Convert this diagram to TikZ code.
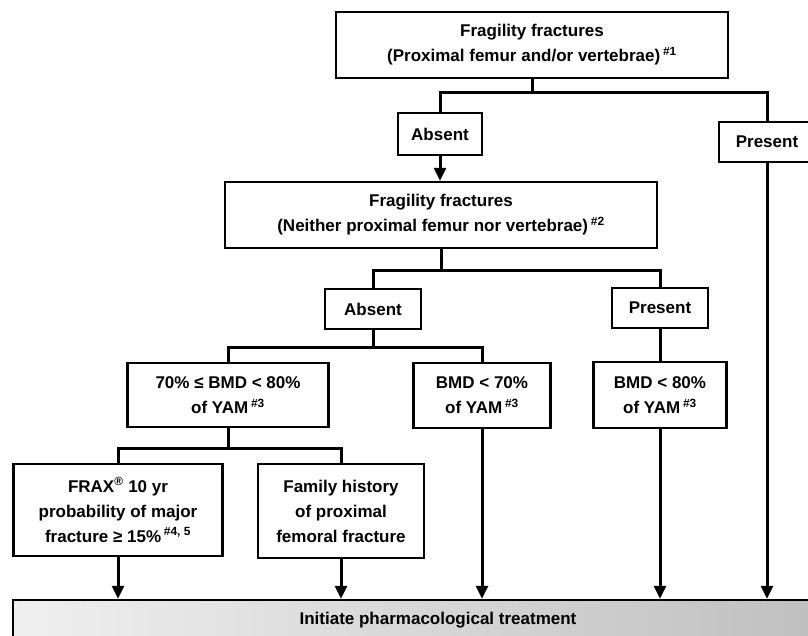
\documentclass[tikz,border=0pt]{standalone}
\usepackage{fontspec}
\setmainfont{Liberation Sans}
\usetikzlibrary{arrows.meta}
\begin{document}
\begin{tikzpicture}[x=1pt,y=-1pt,
  box/.style={draw, line width=2.4pt, font=\bfseries\fontsize{17}{25}\selectfont, align=center, inner sep=0pt},
  conn/.style={line width=3pt},
  arr/.style={line width=3pt, -{Triangle[width=12pt,length=13pt]}},
]
\clip (0,0) rectangle (808,636);
\useasboundingbox (0,0) rectangle (808,636);

\node[box, minimum width=392pt, minimum height=66pt] (top) at (532,45)
  {Fragility fractures\\(Proximal femur and/or vertebrae)\,\textsuperscript{\#1}};
\node[box, minimum width=84pt, minimum height=42pt] (absent1) at (440,134) {Absent};
\node[box, minimum width=96pt, minimum height=40pt] (present1) at (767,142) {Present};
\node[box, minimum width=432pt, minimum height=66pt] (frag2) at (441,215)
  {Fragility fractures\\(Neither proximal femur nor vertebrae)\,\textsuperscript{\#2}};
\node[box, minimum width=96pt, minimum height=40pt] (absent2) at (373,309) {Absent};
\node[box, minimum width=96pt, minimum height=40pt] (present2) at (660,308) {Present};
\node[box, minimum width=201pt, minimum height=64pt] (b7080) at (228,395)
  {70\% ≤ BMD < 80\%\\of YAM\,\textsuperscript{\#3}};
\node[box, minimum width=137pt, minimum height=65pt] (b70) at (482,395.5)
  {BMD < 70\%\\of YAM\,\textsuperscript{\#3}};
\node[box, minimum width=133pt, minimum height=66pt] (b80) at (660,395)
  {BMD < 80\%\\of YAM\,\textsuperscript{\#3}};
\node[box, minimum width=209pt, minimum height=92pt] (frax) at (118,510)
  {FRAX\textsuperscript{®} 10 yr\\probability of major\\fracture ≥ 15\%\,\textsuperscript{\#4, 5}};
\node[box, minimum width=166pt, minimum height=94pt] (family) at (341,511)
  {Family history\\of proximal\\femoral fracture};
\node[box, minimum width=850pt, minimum height=40pt, left color=gray!12, right color=gray!52] (treat) at (438,620)
  {Initiate pharmacological treatment};

\coordinate (j1) at (532,93);
\draw[conn] (top.south) -- (j1);
\draw[conn] (absent1.north) |- (j1) -| (present1.north);
\draw[arr] (absent1.south) -- (absent1.south |- frag2.north);

\coordinate (j2) at (441,271);
\draw[conn] (frag2.south) -- (j2);
\draw[conn] (absent2.north) |- (j2) -| (present2.north);
\draw[conn] (present2.south) -- (present2.south |- b80.north);

\coordinate (j3) at (373,347);
\draw[conn] (absent2.south) -- (j3);
\draw[conn] (b7080.north) |- (j3) -| (b70.north);

\coordinate (j4) at (228,448);
\draw[conn] (b7080.south) -- (j4);
\draw[conn] (frax.north) |- (j4) -| (family.north);

\draw[arr] (frax.south) -- (frax.south |- treat.north);
\draw[arr] (family.south) -- (family.south |- treat.north);
\draw[arr] (b70.south) -- (b70.south |- treat.north);
\draw[arr] (b80.south) -- (b80.south |- treat.north);
\draw[arr] (present1.south) -- (present1.south |- treat.north);
\end{tikzpicture}
\end{document}
